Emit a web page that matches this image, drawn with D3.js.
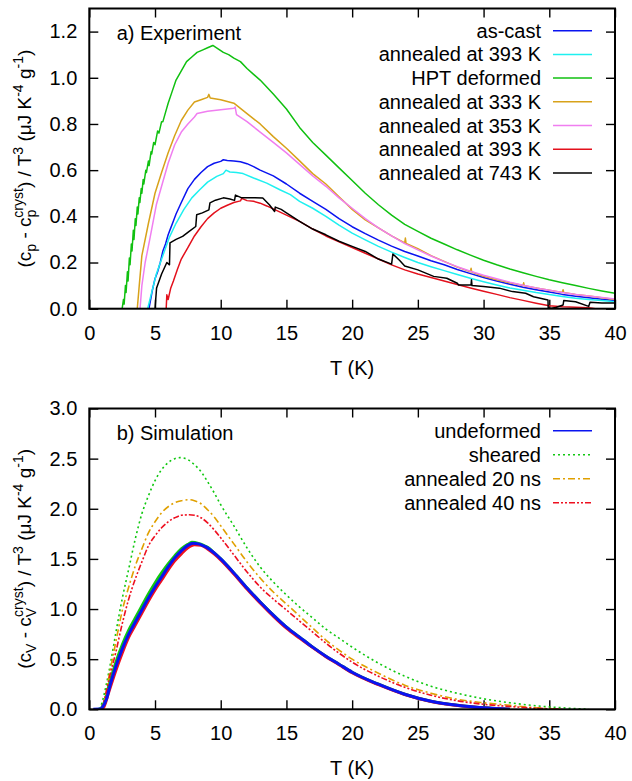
<!DOCTYPE html>
<html>
<head>
<meta charset="utf-8">
<script src="https://cdn.jsdelivr.net/npm/d3@7"></script>
<style>
  body { margin: 0; background: #fff; }
  svg { font-family: "Liberation Sans", Arial, Helvetica, sans-serif; }
</style>
</head>
<body>
<div id="chart"></div>
<script>
// ---- data, [T (K), value] ----
var xTicks = [0, 5, 10, 15, 20, 25, 30, 35, 40];
var yTicksTop = [0, 0.2, 0.4, 0.6, 0.8, 1.0, 1.2];
var yTicksBottom = [0, 0.5, 1.0, 1.5, 2.0, 2.5, 3.0];

var expLabels = ['as-cast', 'annealed at 393 K', 'HPT deformed', 'annealed at 333 K',
  'annealed at 353 K', 'annealed at 393 K', 'annealed at 743 K'];
var expColors = ['#0a14f0', '#1ef0f0', '#10c010', '#d8a21a', '#f07ef0', '#e3101c', '#000000'];

var asCast = [[4.54,0],[4.8,0.08],[5.0,0.13],[5.2,0.16],[5.4,0.2],[5.6,0.25],[5.8,0.28],[6.0,0.32],[6.2,0.35],[6.4,0.38],
  [6.6,0.41],[7.0,0.46],[7.5,0.52],[8.0,0.56],[8.5,0.59],[9.0,0.615],[9.5,0.63],[10,0.638],[10.2,0.645],[10.5,0.642],
  [11,0.64],[11.5,0.636],[12,0.628],[12.5,0.615],[13,0.6],[14,0.575],[15,0.54],[16,0.5],[17,0.465],[18,0.43],[19,0.39],
  [20,0.355],[21,0.325],[22,0.297],[23,0.271],[24,0.248],[25,0.228],[26,0.208],[27,0.19],[28,0.17],[29,0.152],[30,0.135],
  [31,0.12],[32,0.106],[33,0.093],[34,0.082],[35,0.072],[36,0.062],[37,0.054],[38,0.047],[39,0.041],[40,0.036]];

var annealed393a = [[4.44,0],[4.7,0.06],[5.1,0.15],[5.6,0.23],[6.1,0.31],[6.6,0.37],[7.2,0.43],[7.8,0.48],[8.4,0.515],
  [9.0,0.548],[9.7,0.573],[10.2,0.585],[10.4,0.6],[10.7,0.592],[11.2,0.59],[11.7,0.585],[12.5,0.566],[13.5,0.544],
  [14.5,0.515],[15.3,0.494],[16,0.465],[17,0.435],[18,0.4],[19,0.362],[20,0.327],[21,0.298],[22,0.27],[23,0.245],
  [24,0.222],[25,0.2],[26,0.182],[27,0.165],[28,0.148],[29,0.132],[30,0.117],[31,0.103],[32,0.09],[33,0.08],[34,0.07],
  [35,0.062],[36,0.053],[37,0.045],[38,0.04],[39,0.035],[40,0.03]];

var hptDeformed = [[2.5,0],[2.6,0.04],[2.65,0.02],[2.75,0.1],[2.8,0.07],[2.9,0.16],[2.95,0.12],[3.05,0.22],[3.1,0.19],
  [3.2,0.28],[3.25,0.25],[3.35,0.34],[3.4,0.3],[3.5,0.39],[3.55,0.36],[3.65,0.44],[3.7,0.41],[3.8,0.48],[3.85,0.46],
  [3.95,0.52],[4.0,0.5],[4.1,0.56],[4.15,0.54],[4.3,0.6],[4.35,0.59],[4.5,0.64],[4.55,0.62],[4.7,0.68],[4.75,0.67],
  [4.9,0.72],[5.0,0.71],[5.2,0.77],[5.3,0.76],[5.5,0.81],[5.6,0.81],[5.8,0.85],[6.0,0.89],[6.3,0.94],[6.6,0.99],
  [7.0,1.03],[7.4,1.07],[7.8,1.09],[8.2,1.11],[8.6,1.12],[9.0,1.13],[9.4,1.14],[9.8,1.125],[10.2,1.11],[10.6,1.1],
  [11,1.085],[11.5,1.07],[12,1.04],[12.5,1.015],[13,0.99],[14,0.93],[15,0.865],[16,0.785],[17,0.72],[18,0.665],
  [19,0.61],[20,0.555],[21,0.5],[22,0.45],[23,0.405],[24,0.365],[25,0.335],[26,0.305],[27,0.28],[28,0.255],[29,0.232],
  [30,0.21],[31,0.19],[32,0.172],[33,0.156],[34,0.14],[35,0.125],[36,0.112],[37,0.1],[38,0.088],[39,0.077],[40,0.067]];

var annealed333 = [[3.65,0],[3.8,0.1],[4.0,0.23],[4.5,0.37],[5.0,0.5],[5.5,0.59],[6.0,0.675],[6.5,0.75],[7.0,0.815],
  [7.5,0.86],[8.0,0.895],[8.5,0.905],[9.0,0.915],[9.1,0.928],[9.2,0.912],[10,0.905],[11,0.89],[12,0.845],[13,0.8],
  [14,0.745],[15,0.695],[16,0.64],[17,0.585],[18,0.54],[19,0.485],[20,0.43],[21,0.385],[22,0.35],[23,0.315],[24,0.285],
  [24.05,0.306],[24.1,0.283],[25,0.26],[26,0.23],[27,0.205],[28,0.18],[29,0.16],[29.05,0.175],[29.1,0.159],[30,0.14],
  [31,0.125],[32,0.112],[33,0.1],[33.05,0.112],[33.1,0.099],[34,0.09],[35,0.08],[36,0.07],[36.05,0.082],[36.1,0.07],
  [37,0.062],[38,0.055],[39,0.047],[40,0.04]];

var annealed353 = [[3.86,0],[4.0,0.1],[4.25,0.2],[4.6,0.3],[5.1,0.45],[5.5,0.53],[6.0,0.63],[6.5,0.71],[7.0,0.765],
  [7.5,0.8],[8.0,0.83],[8.2,0.845],[9.0,0.855],[10,0.862],[11,0.868],[11.1,0.873],[11.2,0.84],[12,0.81],[13,0.765],
  [14,0.72],[15,0.675],[16,0.625],[17,0.575],[18,0.53],[19,0.48],[20,0.435],[21,0.39],[22,0.35],[23,0.315],[24,0.282],
  [25,0.255],[26,0.228],[27,0.204],[28,0.182],[29,0.162],[30,0.145],[31,0.13],[32,0.115],[33,0.102],[34,0.09],
  [35,0.08],[36,0.07],[37,0.062],[38,0.055],[39,0.048],[40,0.042]];

var annealed393b = [[5.85,0],[5.9,0.06],[6.0,0.04],[6.2,0.09],[6.4,0.12],[6.7,0.17],[7.0,0.215],[7.5,0.265],[8.0,0.315],
  [8.5,0.355],[9.0,0.39],[9.5,0.415],[10,0.435],[10.5,0.448],[11,0.46],[11.5,0.467],[11.6,0.478],[12,0.468],[12.5,0.465],
  [13,0.457],[13.5,0.445],[14,0.432],[15,0.405],[16,0.378],[17,0.345],[18,0.315],[19,0.29],[20,0.265],[21,0.24],
  [22,0.215],[23,0.19],[24,0.168],[25,0.15],[26,0.135],[27,0.12],[28,0.105],[29,0.09],[30,0.076],[31,0.062],[32,0.048],
  [33,0.036],[34,0.024],[35,0.013],[36,0.008],[37,0.006],[38,0.004],[38.5,0]];

var annealed743 = [[5.0,0],[5.12,0.09],[5.5,0.15],[5.9,0.2],[6.1,0.19],[6.14,0.285],[6.6,0.3],[7.1,0.313],[7.6,0.335],
  [8.1,0.356],[8.17,0.407],[8.6,0.415],[9.1,0.428],[9.18,0.458],[9.6,0.47],[10.2,0.48],[10.7,0.475],[11.05,0.469],
  [11.12,0.492],[11.6,0.48],[12.1,0.48],[12.6,0.48],[13.2,0.479],[13.7,0.45],[14.1,0.421],[14.15,0.44],[14.6,0.43],
  [15,0.415],[16,0.378],[17,0.345],[18,0.32],[19,0.292],[20,0.27],[21,0.248],[22,0.215],[23.0,0.193],[23.1,0.237],
  [23.6,0.21],[24,0.185],[25,0.168],[26.2,0.14],[27.2,0.132],[28.0,0.11],[28.1,0.103],[29.05,0.103],[29.08,0.125],
  [29.12,0.1],[30,0.096],[31.2,0.089],[32.2,0.074],[33.2,0.067],[33.8,0.052],[34.9,0.038],[34.92,0],[35.5,0.005],
  [36.05,0.016],[36.1,0.035],[37,0.03],[38,0.01],[38.1,0.028],[39,0.025],[40,0.025]];

var expSeries = [asCast, annealed393a, hptDeformed, annealed333, annealed353, annealed393b, annealed743];

var simLabels = ['undeformed', 'sheared', 'annealed 20 ns', 'annealed 40 ns'];
var simColors = ['#0a14f0', '#10c810', '#e0a000', '#ee1020'];
var simDashes = [null, '2,3', '7,3,2,3', '6,2,2,2,2,2'];

var undeformed = [[0.3,0],[0.8,0.002],[1.0,0.02],[1.3,0.1],[1.6,0.25],[2.0,0.42],[2.5,0.6],[3.0,0.75],[3.5,0.87],
  [4.0,0.99],[4.5,1.11],[5.0,1.22],[5.5,1.32],[6.0,1.42],[6.5,1.51],[7.0,1.58],[7.5,1.635],[7.9,1.655],[8.3,1.65],
  [8.7,1.63],[9.0,1.61],[9.5,1.56],[10,1.5],[11,1.36],[12,1.21],[13,1.07],[14,0.94],[15,0.82],[16,0.72],[17,0.62],
  [18,0.53],[19,0.45],[20,0.37],[22,0.25],[24,0.15],[26,0.08],[28,0.04],[30,0.015],[32,0]];
var sheared = [[0.8,0],[1.0,0.08],[1.3,0.25],[1.6,0.45],[2.0,0.75],[2.5,1.1],[3.0,1.4],[3.5,1.7],[4.0,1.95],[4.5,2.13],
  [5.0,2.28],[5.5,2.39],[6.0,2.46],[6.5,2.5],[6.9,2.51],[7.5,2.49],[8.0,2.44],[8.5,2.37],[9.0,2.27],[9.5,2.16],[10,2.04],
  [11,1.83],[12,1.61],[13,1.42],[14,1.27],[15,1.14],[16,1.02],[17,0.91],[18,0.8],[19,0.71],[20,0.62],[22,0.46],
  [24,0.33],[26,0.23],[28,0.16],[30,0.105],[32,0.065],[34,0.035],[36,0.015],[38,0]];
var annealed20 = [[0.9,0],[1.1,0.06],[1.5,0.33],[2.0,0.66],[2.5,0.98],[3.0,1.22],[3.5,1.43],[4.0,1.6],[4.5,1.76],
  [5.0,1.87],[5.5,1.96],[6.0,2.02],[6.5,2.06],[7.0,2.08],[7.6,2.09],[8.0,2.08],[8.5,2.05],[9.0,1.99],[9.5,1.92],
  [10,1.83],[11,1.65],[12,1.47],[13,1.31],[14,1.17],[15,1.05],[16,0.93],[17,0.81],[18,0.69],[19,0.59],[20,0.5],
  [22,0.36],[24,0.24],[26,0.16],[28,0.1],[30,0.065],[32,0.04],[34,0.015],[36,0]];
var annealed40 = [[0.9,0],[1.2,0.12],[1.5,0.3],[2.0,0.56],[2.5,0.85],[3.0,1.1],[3.5,1.3],[4.0,1.47],[4.5,1.63],
  [5.0,1.73],[5.5,1.81],[6.0,1.87],[6.5,1.91],[7.0,1.935],[7.6,1.94],[8.0,1.935],[8.5,1.91],[9.0,1.86],[9.5,1.79],
  [10,1.71],[11,1.54],[12,1.37],[13,1.22],[14,1.1],[15,0.99],[16,0.88],[17,0.77],[18,0.66],[19,0.56],[20,0.47],
  [22,0.33],[24,0.22],[26,0.14],[28,0.085],[30,0.05],[32,0.028],[34,0.01],[36,0]];
// unlabelled solid curves lying just under the undeformed one
var solidGreen = [[0.7,0],[0.9,0.01],[1.2,0.09],[1.5,0.24],[2.0,0.46],[2.5,0.64],[3.0,0.79],[3.5,0.91],[4.0,1.03],
  [4.5,1.15],[5.0,1.26],[5.5,1.36],[6.0,1.45],[6.5,1.53],[7.0,1.6],[7.5,1.645],[7.8,1.665],[8.3,1.655],[8.7,1.635],
  [9.0,1.615],[9.5,1.56],[10,1.5],[11,1.36],[12,1.21],[13,1.07],[14,0.94],[15,0.82],[16,0.72],[17,0.62],[18,0.53],
  [19,0.45],[20,0.37],[22,0.25],[24,0.15],[26,0.08],[28,0.04],[30,0.015],[32,0]];
var solidRed = [[0.9,0],[1.1,0.02],[1.5,0.18],[2.0,0.38],[2.5,0.56],[3.0,0.72],[3.5,0.84],[4.0,0.96],[4.5,1.08],
  [5.0,1.19],[5.5,1.29],[6.0,1.39],[6.5,1.48],[7.0,1.55],[7.5,1.61],[8.0,1.64],[8.5,1.635],[9.0,1.6],[9.5,1.55],
  [10,1.49],[11,1.35],[12,1.2],[13,1.06],[14,0.93],[15,0.81],[16,0.71],[17,0.615],[18,0.525],[19,0.445],[20,0.365],
  [22,0.245],[24,0.148],[26,0.078],[28,0.038],[30,0.014],[32,0]];

var simSeries = [undeformed, sheared, annealed20, annealed40];

// ---- layout ----
var attrs = {
  width: 632,
  height: 781,
  left: 89.3,
  right: 615,
  fontSize: 20
};

var svg = d3.select('#chart').append('svg')
  .attr('width', attrs.width)
  .attr('height', attrs.height);

var x = d3.scaleLinear().domain([0, 40]).range([attrs.left, attrs.right]);

function drawPanel(p) {
  var y = d3.scaleLinear().domain([0, p.ymax]).range([p.bottom, p.top]);
  var g = svg.append('g');

  g.append('clipPath').attr('id', p.id)
    .append('rect')
    .attr('x', attrs.left).attr('y', p.top)
    .attr('width', attrs.right - attrs.left).attr('height', p.bottom - p.top);

  // axes, gnuplot style: inward ticks mirrored on all sides
  var ax = g.append('g');
  ax.append('g').attr('transform', 'translate(0,' + p.bottom + ')')
    .call(d3.axisBottom(x).tickValues(xTicks).tickSizeInner(-9).tickSizeOuter(0).tickPadding(17).tickFormat(d3.format('d')));
  ax.append('g').attr('transform', 'translate(0,' + p.top + ')')
    .call(d3.axisTop(x).tickValues(xTicks).tickSizeInner(-9).tickSizeOuter(0).tickFormat(''));
  ax.append('g').attr('transform', 'translate(' + attrs.left + ',0)')
    .call(d3.axisLeft(y).tickValues(p.yTicks).tickSizeInner(-9).tickSizeOuter(0).tickPadding(12).tickFormat(d3.format('.1f')));
  ax.append('g').attr('transform', 'translate(' + attrs.right + ',0)')
    .call(d3.axisRight(y).tickValues(p.yTicks).tickSizeInner(-9).tickSizeOuter(0).tickFormat(''));
  ax.selectAll('.domain').remove();
  ax.selectAll('.tick line').attr('stroke', '#000').attr('stroke-width', 1.4);
  ax.selectAll('.tick text')
    .attr('fill', '#000')
    .attr('font-size', attrs.fontSize)
    .attr('font-family', 'Liberation Sans, Arial, sans-serif');

  var line = d3.line().x(d => x(d[0])).y(d => y(d[1])).curve(p.curve);

  var curves = g.append('g').attr('clip-path', 'url(#' + p.id + ')');
  p.series.forEach(s => {
    curves.append('path')
      .attr('d', line(s.data))
      .attr('fill', 'none')
      .attr('stroke', s.color)
      .attr('stroke-width', s.width)
      .attr('stroke-dasharray', s.dash)
      .attr('stroke-linejoin', 'round');
  });

  // frame
  g.append('rect')
    .attr('x', attrs.left).attr('y', p.top)
    .attr('width', attrs.right - attrs.left).attr('height', p.bottom - p.top)
    .attr('fill', 'none').attr('stroke', '#000').attr('stroke-width', 2);

  // legend
  var leg = g.append('g').attr('font-size', attrs.fontSize);
  p.legend.forEach((d, i) => {
    var yy = p.legendTop + i * p.legendStep;
    leg.append('text').attr('x', 541).attr('y', yy).attr('dy', '0.35em')
      .attr('text-anchor', 'end').text(d.label);
    leg.append('line').attr('x1', 553).attr('x2', 592).attr('y1', yy).attr('y2', yy)
      .attr('stroke', d.color).attr('stroke-width', 1.5).attr('stroke-dasharray', d.dash);
  });

  g.append('text').attr('x', 116.7).attr('y', p.top + 31).attr('font-size', attrs.fontSize).text(p.title);

  g.append('text').attr('x', (attrs.left + attrs.right) / 2).attr('y', p.bottom + 66)
    .attr('text-anchor', 'middle').attr('font-size', attrs.fontSize).text('T (K)');

  // y label with sub/superscripts: [text, dy, dx, size]
  var yl = g.append('text')
    .attr('transform', 'translate(31,' + ((p.top + p.bottom) / 2) + ') rotate(-90)')
    .attr('text-anchor', 'middle');
  var parts = [
    ['(c', 0, 0, 19], [p.sub, 5, 0, 14], [' - c', -5, 0, 19], [p.sub, 5, 0, 14],
    ['cryst', -13, -(p.sub === 'p' ? 8 : 9), 14], [') / T', 8, 0, 19], ['3', -8, 0, 14],
    [' (\u03bcJ K', 8, 0, 19], ['-4', -8, 0, 14], [' g', 8, 0, 19], ['-1', -8, 0, 14], [')', 8, 0, 19]
  ];
  parts.forEach(pt => {
    yl.append('tspan').attr('dy', pt[1]).attr('dx', pt[2]).attr('font-size', pt[3]).text(pt[0]);
  });
}

drawPanel({
  id: 'clipA', top: 8.5, bottom: 308.7, ymax: 1.3, yTicks: yTicksTop,
  title: 'a) Experiment', sub: 'p', curve: d3.curveLinear,
  series: expSeries.map((s, i) => ({ data: s, color: expColors[i], width: 1.5, dash: null })),
  legend: expLabels.map((l, i) => ({ label: l, color: expColors[i], dash: null })),
  legendTop: 30.7, legendStep: 23.7
});

drawPanel({
  id: 'clipB', top: 408.5, bottom: 709.3, ymax: 3.0, yTicks: yTicksBottom,
  title: 'b) Simulation', sub: 'V', curve: d3.curveMonotoneX,
  series: [
    { data: solidGreen, color: simColors[1], width: 3, dash: null },
    { data: solidRed, color: simColors[3], width: 3, dash: null },
    { data: sheared, color: simColors[1], width: 1.6, dash: simDashes[1] },
    { data: annealed20, color: simColors[2], width: 1.6, dash: simDashes[2] },
    { data: annealed40, color: simColors[3], width: 1.6, dash: simDashes[3] },
    { data: simSeries[0], color: simColors[0], width: 3, dash: null }
  ],
  legend: simLabels.map((l, i) => ({ label: l, color: simColors[i], dash: simDashes[i] })),
  legendTop: 430.7, legendStep: 24
});
</script>
</body>
</html>
